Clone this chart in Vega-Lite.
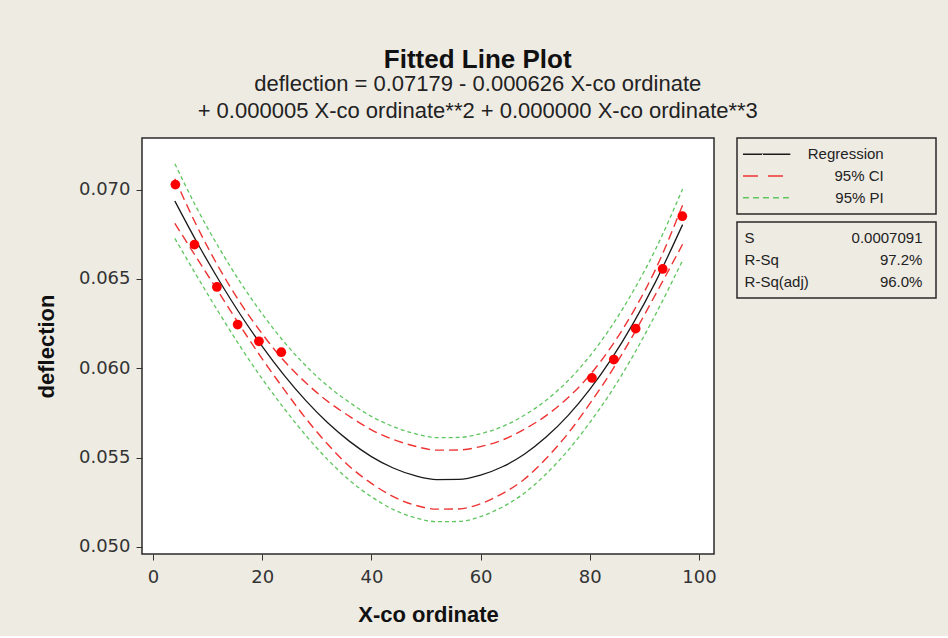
{
  "$schema": "https://vega.github.io/schema/vega-lite/v6.json",
  "background": "#EEEBE3",
  "padding": {"left": 34, "top": 47, "right": 11, "bottom": 10},
  "title": {
    "text": "Fitted Line Plot",
    "subtitle": ["deflection =  0.07179 - 0.000626 X-co ordinate", "+ 0.000005 X-co ordinate**2 + 0.000000 X-co ordinate**3"],
    "anchor": "middle", "dx": -8,
    "font": "Liberation Sans", "fontSize": 26, "fontWeight": "bold", "color": "#111",
    "subtitleFont": "Liberation Sans", "subtitleFontSize": 22, "subtitleColor": "#222",
    "subtitleLineHeight": 27, "subtitlePadding": 1, "offset": 15
  },
  "datasets": {
    "curve": [
      {"x": 4, "fit": 0.06936, "ciLo": 0.06811, "ciHi": 0.07061, "piLo": 0.06727, "piHi": 0.07145},
      {"x": 8, "fit": 0.06708, "ciLo": 0.06618, "ciHi": 0.06798, "piLo": 0.06518, "piHi": 0.06898},
      {"x": 12, "fit": 0.06497, "ciLo": 0.06427, "ciHi": 0.06567, "piLo": 0.06315, "piHi": 0.06679},
      {"x": 16, "fit": 0.06301, "ciLo": 0.06236, "ciHi": 0.06366, "piLo": 0.06121, "piHi": 0.06481},
      {"x": 20, "fit": 0.06123, "ciLo": 0.06053, "ciHi": 0.06193, "piLo": 0.05941, "piHi": 0.06305},
      {"x": 24, "fit": 0.05962, "ciLo": 0.05882, "ciHi": 0.06042, "piLo": 0.05776, "piHi": 0.06148},
      {"x": 28, "fit": 0.05819, "ciLo": 0.05719, "ciHi": 0.05919, "piLo": 0.05624, "piHi": 0.06014},
      {"x": 32, "fit": 0.05695, "ciLo": 0.05575, "ciHi": 0.05815, "piLo": 0.05489, "piHi": 0.05901},
      {"x": 36, "fit": 0.05591, "ciLo": 0.05451, "ciHi": 0.05731, "piLo": 0.05373, "piHi": 0.05809},
      {"x": 40, "fit": 0.05506, "ciLo": 0.05356, "ciHi": 0.05656, "piLo": 0.05281, "piHi": 0.05731},
      {"x": 44, "fit": 0.05442, "ciLo": 0.05282, "ciHi": 0.05602, "piLo": 0.05210, "piHi": 0.05674},
      {"x": 48, "fit": 0.05399, "ciLo": 0.05234, "ciHi": 0.05564, "piLo": 0.05164, "piHi": 0.05634},
      {"x": 52, "fit": 0.05377, "ciLo": 0.05212, "ciHi": 0.05542, "piLo": 0.05142, "piHi": 0.05612},
      {"x": 56, "fit": 0.05378, "ciLo": 0.05213, "ciHi": 0.05543, "piLo": 0.05143, "piHi": 0.05613},
      {"x": 60, "fit": 0.05402, "ciLo": 0.05242, "ciHi": 0.05562, "piLo": 0.05170, "piHi": 0.05634},
      {"x": 64, "fit": 0.05449, "ciLo": 0.05299, "ciHi": 0.05599, "piLo": 0.05224, "piHi": 0.05674},
      {"x": 68, "fit": 0.05519, "ciLo": 0.05379, "ciHi": 0.05659, "piLo": 0.05301, "piHi": 0.05737},
      {"x": 72, "fit": 0.05615, "ciLo": 0.05495, "ciHi": 0.05735, "piLo": 0.05409, "piHi": 0.05821},
      {"x": 76, "fit": 0.05735, "ciLo": 0.05635, "ciHi": 0.05835, "piLo": 0.05540, "piHi": 0.05930},
      {"x": 80, "fit": 0.05882, "ciLo": 0.05802, "ciHi": 0.05962, "piLo": 0.05696, "piHi": 0.06068},
      {"x": 84, "fit": 0.06054, "ciLo": 0.05984, "ciHi": 0.06124, "piLo": 0.05872, "piHi": 0.06236},
      {"x": 88, "fit": 0.06254, "ciLo": 0.06189, "ciHi": 0.06319, "piLo": 0.06074, "piHi": 0.06434},
      {"x": 92, "fit": 0.06481, "ciLo": 0.06411, "ciHi": 0.06551, "piLo": 0.06299, "piHi": 0.06663},
      {"x": 97, "fit": 0.06804, "ciLo": 0.06694, "ciHi": 0.06914, "piLo": 0.06604, "piHi": 0.07004}
    ],
    "obs": [
      {"x": 4.1, "y": 0.07028},
      {"x": 7.6, "y": 0.06692},
      {"x": 11.7, "y": 0.06455},
      {"x": 15.5, "y": 0.06245},
      {"x": 19.4, "y": 0.06151},
      {"x": 23.5, "y": 0.0609},
      {"x": 80.4, "y": 0.05946},
      {"x": 84.4, "y": 0.06049},
      {"x": 88.4, "y": 0.06222},
      {"x": 93.35, "y": 0.06556},
      {"x": 96.95, "y": 0.06851}
    ],
    "legend": [
      {"label": "Regression"},
      {"label": "95% CI"},
      {"label": "95% PI"}
    ],
    "stats": [
      {"name": "S", "value": "0.0007091"},
      {"name": "R-Sq", "value": "97.2%"},
      {"name": "R-Sq(adj)", "value": "96.0%"}
    ]
  },
  "hconcat": [
    {
      "width": 572,
      "height": 416,
      "view": {"fill": "white", "stroke": "#2a2a2a", "strokeWidth": 1.5},
      "encoding": {
        "x": {
          "field": "x", "type": "quantitative", "title": "X-co ordinate",
          "scale": {"domain": [-2.015, 102.75], "nice": false, "zero": false},
          "axis": {
            "values": [0, 20, 40, 60, 80, 100], "domain": false, "grid": false,
            "tickSize": 6, "tickColor": "#333", "labelPadding": 8, "titlePadding": 18,
            "labelFont": "DejaVu Sans", "labelFontSize": 18, "labelColor": "#333",
            "titleFont": "Liberation Sans", "titleFontSize": 22, "titleFontWeight": "bold", "titleColor": "#111"
          }
        }
      },
      "layer": [
        {
          "data": {"name": "curve"},
          "mark": {"type": "line", "color": "#5FC65F", "strokeWidth": 1.3, "strokeDash": [4, 3], "interpolate": "monotone"},
          "encoding": {
            "y": {
              "field": "piLo", "type": "quantitative", "title": "deflection",
              "scale": {"domain": [0.049608, 0.072888], "nice": false, "zero": false},
              "axis": {
                "values": [0.05, 0.055, 0.06, 0.065, 0.07], "format": ".3f", "domain": false, "grid": false,
                "tickSize": 6, "tickColor": "#333", "labelPadding": 6, "titlePadding": 20,
                "labelFont": "DejaVu Sans", "labelFontSize": 18, "labelColor": "#333",
                "titleFont": "Liberation Sans", "titleFontSize": 22, "titleFontWeight": "bold", "titleColor": "#111"
              }
            }
          }
        },
        {
          "data": {"name": "curve"},
          "mark": {"type": "line", "color": "#5FC65F", "strokeWidth": 1.3, "strokeDash": [4, 3], "interpolate": "monotone"},
          "encoding": {
            "y": {"field": "piHi", "type": "quantitative", "title": "deflection", "scale": {"domain": [0.049608, 0.072888], "nice": false, "zero": false}}
          }
        },
        {
          "data": {"name": "curve"},
          "mark": {"type": "line", "color": "#EE3333", "strokeWidth": 1.4, "strokeDash": [9, 5], "interpolate": "monotone"},
          "encoding": {
            "y": {"field": "ciLo", "type": "quantitative", "title": "deflection", "scale": {"domain": [0.049608, 0.072888], "nice": false, "zero": false}}
          }
        },
        {
          "data": {"name": "curve"},
          "mark": {"type": "line", "color": "#EE3333", "strokeWidth": 1.4, "strokeDash": [9, 5], "interpolate": "monotone"},
          "encoding": {
            "y": {"field": "ciHi", "type": "quantitative", "title": "deflection", "scale": {"domain": [0.049608, 0.072888], "nice": false, "zero": false}}
          }
        },
        {
          "data": {"name": "curve"},
          "mark": {"type": "line", "color": "#1a1a1a", "strokeWidth": 1.3, "interpolate": "monotone"},
          "encoding": {
            "y": {"field": "fit", "type": "quantitative", "title": "deflection", "scale": {"domain": [0.049608, 0.072888], "nice": false, "zero": false}}
          }
        },
        {
          "data": {"name": "obs"},
          "mark": {"type": "point", "shape": "circle", "filled": true, "color": "#FF0000", "opacity": 1, "size": 95},
          "encoding": {
            "y": {"field": "y", "type": "quantitative", "title": "deflection", "scale": {"domain": [0.049608, 0.072888], "nice": false, "zero": false}}
          }
        }
      ]
    },
    {
      "vconcat": [
        {
          "width": 199,
          "height": 76,
          "view": {"fill": "#EEEBE3", "stroke": "#2a2a2a", "strokeWidth": 1.5},
          "data": {"name": "legend"},
          "encoding": {
            "y": {"field": "label", "type": "nominal", "scale": {"type": "point", "domain": ["Regression", "95% CI", "95% PI"], "padding": 0.75}, "axis": null}
          },
          "layer": [
            {
              "mark": {"type": "rule", "strokeWidth": 1.4},
              "encoding": {
                "x": {"datum": 0.03, "type": "quantitative", "scale": {"domain": [0, 1], "nice": false}, "axis": null},
                "x2": {"datum": 0.268},
                "color": {"field": "label", "type": "nominal", "scale": {"domain": ["Regression", "95% CI", "95% PI"], "range": ["#1a1a1a", "#EE3333", "#5FC65F"]}, "legend": null},
                "strokeDash": {"field": "label", "type": "nominal", "scale": {"domain": ["Regression", "95% CI", "95% PI"], "range": [[1, 0], [15, 10], [6, 4]]}, "legend": null}
              }
            },
            {
              "mark": {"type": "text", "align": "right", "baseline": "middle", "font": "Liberation Sans", "fontSize": 15, "color": "#222"},
              "encoding": {
                "x": {"datum": 0.737, "type": "quantitative", "scale": {"domain": [0, 1], "nice": false}, "axis": null},
                "text": {"field": "label"}
              }
            }
          ]
        },
        {
          "width": 199,
          "height": 76,
          "view": {"fill": "#EEEBE3", "stroke": "#2a2a2a", "strokeWidth": 1.5},
          "data": {"name": "stats"},
          "encoding": {
            "y": {"field": "name", "type": "nominal", "scale": {"type": "point", "domain": ["S", "R-Sq", "R-Sq(adj)"], "padding": 0.7}, "axis": null}
          },
          "layer": [
            {
              "mark": {"type": "text", "align": "left", "baseline": "middle", "font": "Liberation Sans", "fontSize": 15, "color": "#222"},
              "encoding": {
                "x": {"datum": 0.038, "type": "quantitative", "scale": {"domain": [0, 1], "nice": false}, "axis": null},
                "text": {"field": "name"}
              }
            },
            {
              "mark": {"type": "text", "align": "right", "baseline": "middle", "font": "Liberation Sans", "fontSize": 15, "color": "#222"},
              "encoding": {
                "x": {"datum": 0.932, "type": "quantitative", "scale": {"domain": [0, 1], "nice": false}, "axis": null},
                "text": {"field": "value"}
              }
            }
          ]
        }
      ],
      "spacing": 6
    }
  ],
  "spacing": 19
}
